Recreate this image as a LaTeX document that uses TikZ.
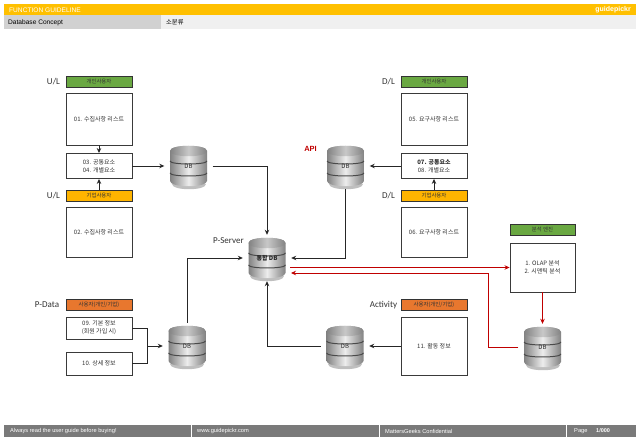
\documentclass[tikz,border=0pt]{standalone}
\usepackage{fontspec}
\usepackage{amsmath}
\usetikzlibrary{arrows.meta}
\setmainfont{Liberation Sans}
\newfontfamily\krfont{Noto Sans CJK KR}
\newfontfamily\calfont{Carlito}
\definecolor{headyellow}{HTML}{FFC000}
\definecolor{tagyellow}{HTML}{FFB400}
\definecolor{taggreen}{HTML}{6AA842}
\definecolor{tagorange}{HTML}{E8772E}
\definecolor{darkline}{HTML}{3A3A3A}
\definecolor{redline}{HTML}{C00000}
\definecolor{footgray}{HTML}{7A7A7A}
\definecolor{dbedge}{HTML}{828282}
\definecolor{dblight}{HTML}{EDEDED}
\definecolor{dbtop}{HTML}{C8C8C8}
\definecolor{dbband}{HTML}{4A4A4A}
\tikzset{
  dbicon/.pic={
    \fill[black!25] (-17,18) .. controls (-17,25) and (17,25) .. (17,18) -- cycle;
    \shade[left color=dbedge,right color=dbedge,middle color=dblight] (-18.5,-15) -- (-18.5,15)
      .. controls (-18.5,22) and (18.5,22) .. (18.5,15) -- (18.5,-15)
      .. controls (18.5,-22) and (-18.5,-22) .. (-18.5,-15) -- cycle;
    \shade[left color=dbedge,right color=dbedge,middle color=dbtop] (-18.5,-15)
      .. controls (-18.5,-22) and (18.5,-22) .. (18.5,-15)
      .. controls (18.5,-8) and (-18.5,-8) .. (-18.5,-15) -- cycle;
    \draw[dbband,line width=1pt] (-18.5,-5) .. controls (-18.5,-1) and (18.5,-1) .. (18.5,-5);
    \draw[dbband,line width=1pt] (-18.5,7) .. controls (-18.5,11) and (18.5,11) .. (18.5,7);
  },
  bigbox/.style={draw=darkline,line width=0.9pt,fill=white,minimum width=66pt,inner sep=0pt,align=center,font=\krfont\fontsize{6}{8}\selectfont,text=black!80},
  tag/.style={draw=black!80,line width=0.7pt,minimum width=66pt,minimum height=11pt,inner sep=0pt,font=\krfont\fontsize{5.4}{6}\selectfont,text=black!80},
  sidelabel/.style={inner sep=0pt,font=\calfont\fontsize{9}{10}\selectfont,text=black!80},
  dbnode/.style={minimum width=48pt,minimum height=46pt,inner sep=0pt,font=\krfont\fontsize{6}{6}\selectfont,text=black!85},
  strip/.style={inner sep=0pt,anchor=west,font=\fontsize{6.6}{7}\selectfont},
  footstrip/.style={inner sep=0pt,anchor=west,text=white,font=\fontsize{5.7}{7}\selectfont},
  link/.style={line width=0.8pt,draw=black!85,-{Stealth[length=5pt,width=4.5pt]}},
  redlink/.style={line width=0.8pt,draw=redline,-{Stealth[length=5pt,width=4.5pt]}}
}
\begin{document}
\begin{tikzpicture}[x=1pt,y=-1pt]
\useasboundingbox (0,0) rectangle (640,443);
\fill[headyellow] (4,4) rectangle (636,15);
\fill[black!18] (4,15.5) rectangle (161,29.5);
\fill[black!6] (161,15.5) rectangle (636,29.5);
\fill[footgray] (4,425) rectangle (636,437);
\draw[white,line width=0.8pt] (191,425) -- (191,437);
\draw[white,line width=0.8pt] (379,425) -- (379,437);
\draw[white,line width=0.8pt] (566,425) -- (566,437);
\node[strip,text=white] (headTitle) at (9,9.8) {FUNCTION GUIDELINE};
\node[strip,text=white,anchor=east,font=\bfseries\fontsize{7}{8}\selectfont] (headBrand) at (631,9.8) {guidepickr};
\node[strip] (subTitle) at (8,22.5) {Database Concept};
\node[strip,font=\krfont\fontsize{6.3}{7}\selectfont] (subClass) at (166,22) {소분류};
\node[footstrip] (footGuide) at (10,431) {Always read the user guide before buying!};
\node[footstrip] (footUrl) at (197,431) {www.guidepickr.com};
\node[footstrip] (footConf) at (385,431) {MattersGeeks Confidential};
\node[footstrip] (footPage) at (574,431) {Page};
\node[footstrip,font=\bfseries\fontsize{5.5}{7}\selectfont] (footNum) at (596,431) {1/000};
\node[sidelabel] (lblUa) at (53.5,82) {U/L};
\node[sidelabel] (lblUb) at (53.5,196) {U/L};
\node[sidelabel] (lblDa) at (388.5,82) {D/L};
\node[sidelabel] (lblDb) at (388.5,196) {D/L};
\node[sidelabel] (lblServer) at (228.5,241) {P-Server};
\node[sidelabel] (lblData) at (47,305) {P-Data};
\node[sidelabel] (lblAct) at (383.5,305.5) {Activity};
\node[inner sep=0pt,text=redline,font=\bfseries\fontsize{7.5}{8}\selectfont] (lblApi) at (310.5,148.5) {API};
\node[tag,fill=taggreen] (tagUa) at (99,81.5) {개인사용자};
\node[bigbox,minimum height=52pt] (box01) at (99,119) {01. 수집사항 리스트};
\node[bigbox,minimum height=25pt] (box03) at (99,166) {03. 공통요소\\04. 개별요소};
\node[tag,fill=tagyellow] (tagUb) at (99,195.5) {기업사용자};
\node[bigbox,minimum height=50pt] (box02) at (99,232) {02. 수집사항 리스트};
\node[tag,fill=taggreen] (tagDa) at (434,81.5) {개인사용자};
\node[bigbox,minimum height=52pt] (box05) at (434,119) {05. 요구사항 리스트};
\node[bigbox,minimum height=25pt] (box07) at (434,166) {\textbf{07. 공통요소}\\08. 개별요소};
\node[tag,fill=tagyellow] (tagDb) at (434,195.5) {기업사용자};
\node[bigbox,minimum height=50pt] (box06) at (434,232) {06. 요구사항 리스트};
\node[tag,fill=tagorange] (tagData) at (99,305) {사용자(개인/기업)};
\node[bigbox,minimum height=22pt] (box09) at (99,328) {09. 기본 정보\\(회원 가입 시)};
\node[bigbox,minimum height=23pt] (box10) at (99,363.5) {10. 상세 정보};
\node[tag,fill=tagorange] (tagAct) at (434,305) {사용자(개인/기업)};
\node[bigbox,minimum height=58pt] (box11) at (434,346) {11. 활동 정보};
\node[tag,fill=taggreen,minimum width=65pt] (tagEngine) at (542.5,229.5) {분석 엔진};
\node[bigbox,minimum width=65pt,minimum height=49pt] (boxEngine) at (542.5,267.5) {1. OLAP 분석\\2. 시맨틱 분석};
\pic at (188.5,166) {dbicon};
\pic at (345.5,166) {dbicon};
\pic at (267,258) {dbicon};
\pic at (187,346) {dbicon};
\pic at (345,346) {dbicon};
\pic at (542.5,347) {dbicon};
\node[dbnode] (dbUser) at (188.5,166) {\raisebox{-3pt}{DB}};
\node[dbnode] (dbApi) at (345.5,166) {\raisebox{-3pt}{DB}};
\node[dbnode] (dbCenter) at (267,258) {\raisebox{-2pt}{\textbf{통합 DB}}};
\node[dbnode] (dbData) at (187,346) {\raisebox{-3pt}{DB}};
\node[dbnode] (dbAct) at (345,346) {\raisebox{-3pt}{DB}};
\node[dbnode] (dbEngine) at (542.5,347) {\raisebox{-3pt}{DB}};
\coordinate (redOut) at (290,267.5);
\coordinate (redIn) at (291,273);
\coordinate (redBend) at (488,273);
\coordinate (mergeData) at (147.5,346);
\draw[link] (box01.south) -- (box03.north);
\draw[link] (tagUb.north) -- (box03.south);
\draw[link] (tagDb.north) -- (box07.south);
\draw[link] (box03.east) -- (dbUser.west);
\draw[link] (box07.west) -- (dbApi.east);
\draw[link] (dbUser.east) -| (dbCenter.north);
\draw[link] (dbApi.south) |- (dbCenter.east);
\draw[link] (dbData.north) |- (dbCenter.west);
\draw[link] (dbAct.west) -| (dbCenter.south);
\draw[link] (box11.west) -- (dbAct.east);
\draw[line width=0.8pt,draw=black!85] (box09.east) -| (mergeData);
\draw[line width=0.8pt,draw=black!85] (box10.east) -| (mergeData);
\draw[link] (mergeData) -- (dbData.west);
\draw[redlink] (redOut) -- (boxEngine.west);
\draw[redlink] (boxEngine.south) -- (dbEngine.north);
\draw[redlink] (dbEngine.west) -| (redBend) -- (redIn);
\end{tikzpicture}
\end{document}
